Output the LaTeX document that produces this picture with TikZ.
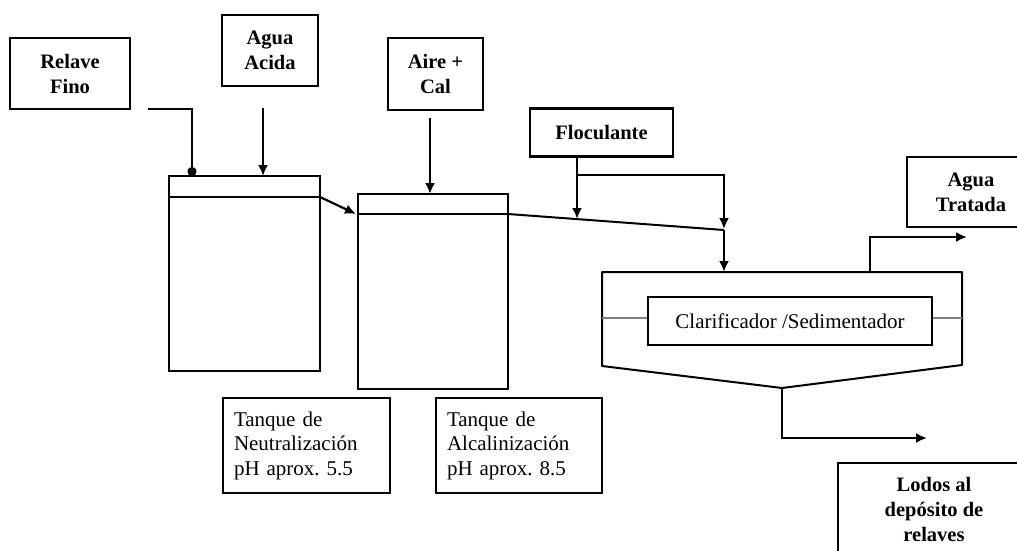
\documentclass[tikz,border=0pt]{standalone}
\usepackage{fontspec}
\setmainfont{Liberation Serif}
\usetikzlibrary{arrows.meta}
\frenchspacing
\tikzset{
  box/.style={draw, line width=2.2pt, inner sep=0pt, align=center},
  tank/.style={draw, line width=2pt, inner sep=0pt},
  lbl/.style={font=\fontsize{20.5}{25}\selectfont\bfseries, align=center},
  reg/.style={font=\fontsize{21}{24.5}\selectfont},
  flow/.style={line width=2.2pt, -{Latex[length=11pt,width=10pt]}},
  dotflow/.style={line width=2.2pt, -{Circle[length=9pt,width=9pt]}},
  plain/.style={line width=2pt},
}
\begin{document}
\begin{tikzpicture}[x=1pt,y=-1pt]
\useasboundingbox (0,0) rectangle (1017,551);
\clip (0,0) rectangle (1017,551);
\fill[white] (0,0) rectangle (1017,551);

% input boxes
\node[box, lbl, minimum width=120pt, minimum height=71pt] (relave) at (70,73.5) {Relave\\Fino};
\node[box, lbl, minimum width=96pt, minimum height=71pt] (agua) at (270,50.5) {Agua\\Acida};
\node[box, lbl, minimum width=95pt, minimum height=72pt] (aire) at (435.5,74) {Aire +\\Cal};
\node[box, lbl, minimum width=143pt, minimum height=48pt] (floc) at (601.5,132.5) {Floculante};
\node[box, lbl, minimum width=128pt, minimum height=70pt, text width=120pt] (tratada) at (971,192) {Agua\\Tratada};
\node[box, lbl, minimum width=194pt, minimum height=110pt, anchor=north west] (lodos) at (837,462) {};
\node[lbl] (lodostxt) at (934,509) {Lodos al\\depósito de\\relaves};

% tanks
\node[tank, minimum width=151pt, minimum height=195pt] (tank1) at (244.5,273.5) {};
\node[tank, minimum width=150pt, minimum height=195pt] (tank2) at (433,291.5) {};
\coordinate (t1a) at (169,197);
\coordinate (t1b) at (320,197);
\coordinate (t2a) at (358,214);
\coordinate (t2b) at (508,214);
\draw[plain] (t1a) -- (t1b);
\draw[plain] (t2a) -- (t2b);

% tank labels
\node[box, reg, minimum width=167pt, minimum height=95pt, text width=145pt, align=left] (neut) at (306.5,445.5) {Tanque de\\Neutralización\\pH aprox. 5.5};
\node[box, reg, minimum width=166pt, minimum height=95pt, text width=144pt, align=left] (alca) at (519,445.5) {Tanque de\\Alcalinización\\pH aprox. 8.5};

% clarifier
\coordinate (cl1) at (602,366);
\coordinate (cl2) at (602,272);
\coordinate (cl3) at (962,272);
\coordinate (cl4) at (962,365);
\coordinate (cl5) at (782,388);
\draw[plain, line join=round] (cl1) -- (cl2) -- (cl3) -- (cl4) -- (cl5) -- cycle;
\node[box, reg, minimum width=284pt, minimum height=48pt] (clar) at (790,321) {Clarificador /Sedimentador};
\draw[line width=1.6pt, gray] (602,318) -- (clar.west |- 0,318);
\draw[line width=1.6pt, gray] (clar.east |- 0,318) -- (962,318);

% connectors
\coordinate (rs) at (148,109);
\coordinate (re) at (192,176);
\draw[dotflow] (rs) -| (re);
\coordinate (as) at (263,108);
\coordinate (ae) at (263,176);
\draw[flow] (as) -- (ae);
\draw[flow] (t1b) -- (356,214);
\coordinate (cs) at (430,118);
\coordinate (ce) at (430,194);
\draw[flow] (cs) -- (ce);
\coordinate (junc) at (724,230);
\draw[plain] (t2b) -- (junc);
\coordinate (fs) at (577,157);
\coordinate (fj) at (577,175);
\draw[flow] (fs) -- (577,219);
\draw[flow] (fj) -| (724,229);
\draw[flow] (junc) -- (724,272);
\coordinate (ts) at (870,272);
\draw[flow] (ts) |- (967,237);
\draw[flow] (cl5) |- (927,438);
\end{tikzpicture}
\end{document}
